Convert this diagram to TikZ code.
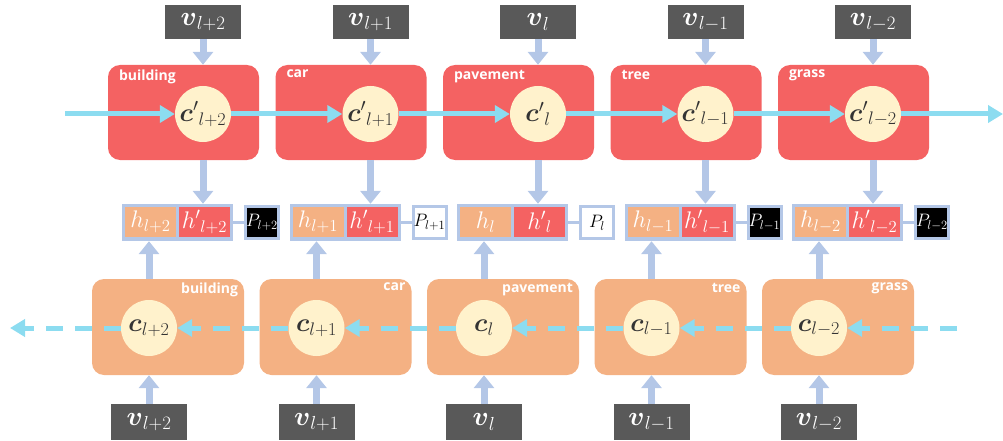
\RequirePackage{fix-cm}
\documentclass[tikz,border=0pt]{standalone}
\usepackage{amsmath}
\usepackage{fontspec}
\setsansfont{Open Sans}
\usetikzlibrary{arrows.meta}
\definecolor{topred}{HTML}{F46262}
\definecolor{botorg}{HTML}{F4B183}
\definecolor{cream}{HTML}{FFF2CC}
\definecolor{lblue}{HTML}{B4C7E7}
\definecolor{cyanA}{HTML}{8CDCF0}
\definecolor{vgray}{HTML}{595959}
\begin{document}
\begin{tikzpicture}[x=1pt,y=-1pt,
  vbox/.style={fill=vgray, text=white, minimum width=76pt, minimum height=34pt, inner sep=0pt, font=\fontsize{27}{30}\selectfont},
  circ/.style={circle, fill=cream, minimum size=56pt, inner sep=0pt, text=black!80, font=\fontsize{26}{30}\selectfont},
  topmod/.style={fill=topred, rounded corners=12pt, minimum width=151pt, minimum height=95pt, inner sep=0pt},
  botmod/.style={fill=botorg, rounded corners=12pt, minimum width=152pt, minimum height=96pt, inner sep=0pt},
  lab/.style={text=white, font=\sffamily\bfseries\fontsize{14}{16}\selectfont, inner sep=0pt},
  hframe/.style={fill=lblue, minimum width=111pt, minimum height=37pt, inner sep=0pt},
  hbox/.style={minimum width=51pt, minimum height=30pt, inner sep=0pt, text=white, font=\fontsize{24}{26}\selectfont},
  pbox/.style={draw=lblue, line width=3pt, minimum width=33pt, minimum height=32pt, inner sep=0pt, font=\fontsize{18}{20}\selectfont},
  varrow/.style={lblue, line width=7pt, -{Triangle[width=20pt,length=13pt]}},
  hline/.style={lblue, line width=3pt},
  carrow/.style={cyanA, line width=5pt, -{Triangle[width=17pt,length=15pt]}},
  dline/.style={carrow, dash pattern=on 17pt off 12pt}]
\useasboundingbox (0,0) rectangle (1003,441);
\foreach \i/\sub/\lab/\pfill/\ptext in {0/l+2/building/black/white, 1/l+1/car/white/black, 2/l/pavement/white/black, 3/l-1/tree/black/white, 4/l-2/grass/black/white}{
  \pgfmathsetmacro\X{203+167.5*\i}
  \pgfmathsetmacro\Xb{\X-54}
  \node[topmod] (tm\i) at ({\X-19.5},112.5) {};
  \node[lab, anchor=north west] (tl\i) at ([xshift=11pt,yshift=-5pt]tm\i.north west) {\lab};
  \node[circ] (tc\i) at (\X,114) {${\boldsymbol{c}'}_{\sub}$};
  \node[vbox] (tv\i) at (\X,22) {$\boldsymbol{v}_{\sub}$};
  \node[botmod] (bm\i) at ({\Xb+19},327) {};
  \node[lab, anchor=north east] (bl\i) at ([xshift=-6pt,yshift=-4pt]bm\i.north east) {\lab};
  \node[circ] (bc\i) at (\Xb,328) {$\boldsymbol{c}_{\sub}$};
  \node[vbox, minimum height=36pt] (bv\i) at (\Xb,422) {$\boldsymbol{v}_{\sub}$};
  \node[hframe] (hf\i) at ({\X-25.5},222.5) {};
  \node[hbox, fill=botorg] (hb\i) at ({\X-52.5},222) {$h_{\sub}$};
  \node[hbox, fill=topred] (hp\i) at ({\X+1.5},222) {${h'}_{\sub}$};
  \node[pbox, fill=\pfill, text=\ptext] (p\i) at ({\X+59},222.5) {$P_{\sub}$};
  \draw[hline] (hf\i.east) -- (p\i.west);
  \draw[varrow] (tv\i.south) -- (tv\i.south |- tm\i.north);
  \draw[varrow] (tc\i |- tm\i.south) -- (tc\i |- hf\i.north);
  \draw[varrow] (bc\i |- bm\i.north) -- (bc\i |- hf\i.south);
  \draw[varrow] (bv\i.north) -- (bv\i.north |- bm\i.south);
}
\coordinate (tstart) at (65,114);
\coordinate (tend) at (1003,114);
\draw[carrow] (tstart) -- (tc0.west);
\foreach \i/\j in {0/1,1/2,2/3,3/4} \draw[carrow] (tc\i.east) -- (tc\j.west);
\draw[carrow] (tc4.east) -- (tend);
\coordinate (bstart) at (957,328);
\coordinate (bend) at (10,328);
\draw[dline] (bstart) -- (bc4.east);
\foreach \i/\j in {4/3,3/2,2/1,1/0} \draw[dline] (bc\i.west) -- (bc\j.east);
\draw[dline] (bc0.west) -- (bend);
\end{tikzpicture}
\end{document}
